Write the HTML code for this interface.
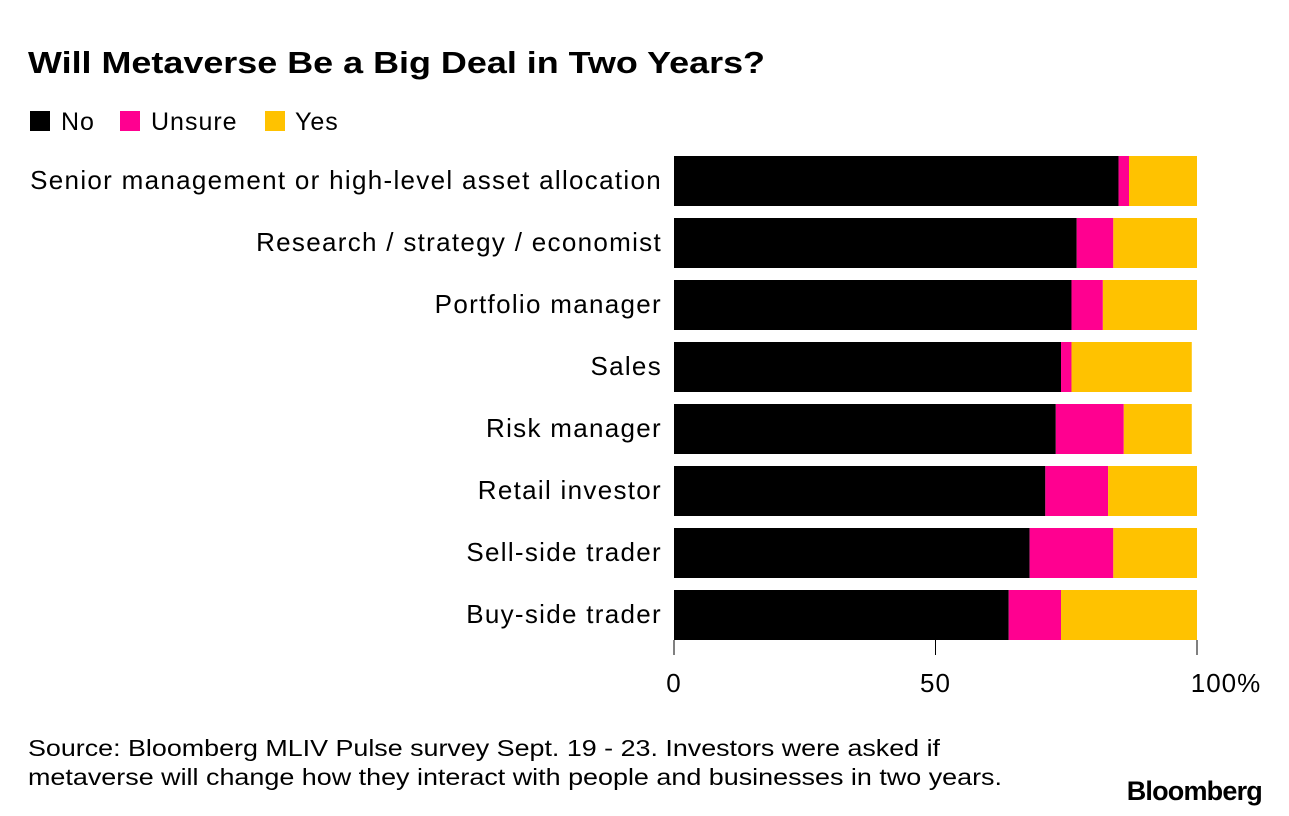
<!DOCTYPE html>
<html><head><meta charset="utf-8"><style>
body{margin:0;background:#fff;font-family:"Liberation Sans",sans-serif;}
#wrap{position:relative;width:1289px;height:816px;overflow:hidden;}
</style></head><body>
<div id="wrap">
<svg id="chart" width="1289" height="816">
<text x="28" y="73" font-size="31" font-weight="bold" fill="#000" textLength="737" lengthAdjust="spacingAndGlyphs">Will Metaverse Be a Big Deal in Two Years?</text>
<g>
<rect x="30" y="111" width="20" height="20" fill="#000"/>
<text x="61" y="130" font-size="25" letter-spacing="1">No</text>
<rect x="120" y="111" width="20" height="20" fill="#ff0090"/>
<text x="151" y="130" font-size="25" letter-spacing="1">Unsure</text>
<rect x="265" y="111" width="20" height="20" fill="#ffc200"/>
<text x="295" y="130" font-size="25" letter-spacing="1">Yes</text>
</g>
<g id="bars"></g>
<g id="axis"></g>
<text x="28" y="756" font-size="23" textLength="912" lengthAdjust="spacingAndGlyphs">Source: Bloomberg MLIV Pulse survey Sept. 19 - 23. Investors were asked if</text>
<text x="28" y="785" font-size="23" textLength="974" lengthAdjust="spacingAndGlyphs">metaverse will change how they interact with people and businesses in two years.</text>
<text x="1262" y="800" font-size="27" font-weight="bold" text-anchor="end" letter-spacing="-0.8">Bloomberg</text>
</svg>
</div>
<script>
const categories=["Senior management or high-level asset allocation","Research / strategy / economist","Portfolio manager","Sales","Risk manager","Retail investor","Sell-side trader","Buy-side trader"];
const noVals=[85,77,76,74,73,71,68,64];
const unsureVals=[2,7,6,2,13,12,16,10];
const yesVals=[13,16,18,23,13,17,16,26];
const ticks=[0,50,100];
const tickLabels=["0","50","100%"];
const NS="http://www.w3.org/2000/svg";
const x0=674,x1=1197,top0=156,pitch=62,bh=50;
const xs=v=>x0+(x1-x0)*v/100;
const bars=document.getElementById('bars'),axis=document.getElementById('axis');
function mk(t,a,p){const e=document.createElementNS(NS,t);for(const k in a)e.setAttribute(k,a[k]);p.appendChild(e);return e;}
const series=[[noVals,"#000","no"],[unsureVals,"#ff0090","unsure"],[yesVals,"#ffc200","yes"]];
categories.forEach((c,i)=>{
  const y=top0+i*pitch;
  const lab=mk('text',{x:662,y:y+bh/2+8,'font-size':26,'text-anchor':'end','letter-spacing':1.3},bars);
  lab.textContent=c;
  
  
  let acc=0;
  series.forEach(s=>{
    const v=s[0][i];
    const r=mk('rect',{x:xs(acc),y:y,width:xs(acc+v)-xs(acc),height:bh,fill:s[1]},bars);
    
    
    acc+=v;
  });
});
ticks.forEach((t,i)=>{
  const x=xs(t);
  const l=mk('line',{x1:x,x2:x,y1:640,y2:655,stroke:'#000','stroke-width':1},axis);
  
  
  const tx=mk('text',{x:i==ticks.length-1?x+29:x,y:692,'font-size':26,'text-anchor':'middle','letter-spacing':1},axis);
  tx.textContent=tickLabels[i];
  
  
});
</script>
</body></html>
